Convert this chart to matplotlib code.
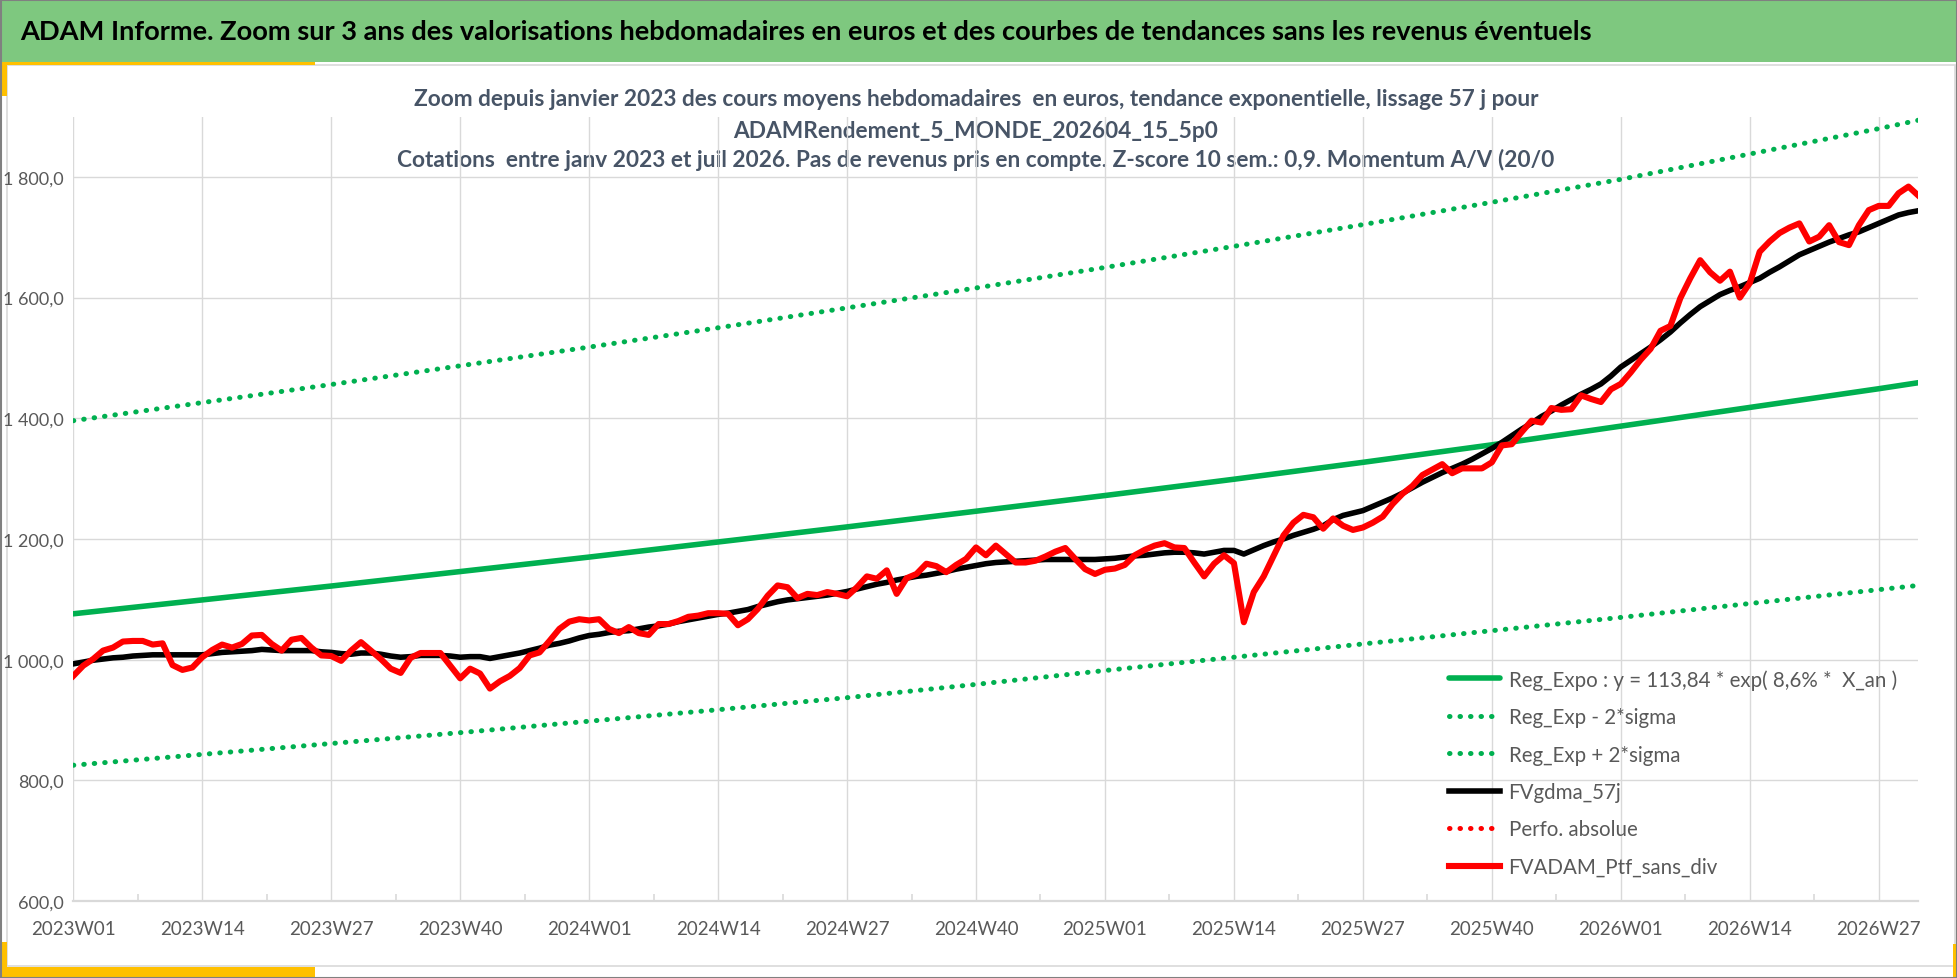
import numpy as np
import matplotlib
matplotlib.use("Agg")
import matplotlib.pyplot as plt
from matplotlib.patches import Rectangle
from matplotlib.ticker import FixedLocator, FuncFormatter

plt.rcParams["font.family"] = ["Lato", "DejaVu Sans"]

# ---- data (x = weeks since 2023W01) ----
tick_weeks = [0, 13, 26, 39, 52, 65, 78, 91, 104, 117, 130, 143, 156, 169, 182]
tick_labels = ["2023W01", "2023W14", "2023W27", "2023W40", "2024W01", "2024W14",
               "2024W27", "2024W40", "2025W01", "2025W14", "2025W27", "2025W40",
               "2026W01", "2026W14", "2026W27"]

trend_weeks = [0, 13, 26, 39, 52, 65, 78, 91, 104, 117, 130, 143, 156, 169, 182, 186]
reg_expo = [1076, 1099, 1122, 1146, 1170, 1195, 1220, 1246, 1272, 1299, 1327, 1356,
            1387, 1418, 1449, 1459]
reg_minus = [825, 843, 861, 879, 898, 917, 937, 959, 982, 1004, 1026, 1048,
             1070, 1093, 1116, 1123]
reg_plus = [1396, 1426, 1456, 1487, 1518, 1550, 1583, 1616, 1650, 1685, 1721, 1758,
            1796, 1838, 1880, 1894]

fv_gdma = [993, 996, 999, 1001, 1003, 1004, 1006, 1007, 1008, 1008,
           1008, 1008, 1008, 1008, 1010, 1012, 1013, 1014, 1015, 1017,
           1016, 1015, 1015, 1015, 1015, 1013, 1012, 1010, 1009, 1011,
           1011, 1009, 1006, 1004, 1005, 1007, 1007, 1007, 1006, 1004,
           1005, 1005, 1002, 1005, 1008, 1011, 1015, 1019, 1024, 1027,
           1031, 1036, 1040, 1042, 1045, 1047, 1048, 1051, 1054, 1056,
           1059, 1063, 1066, 1069, 1072, 1075, 1077, 1080, 1083, 1088,
           1092, 1096, 1099, 1101, 1103, 1105, 1107, 1110, 1113, 1117,
           1121, 1125, 1128, 1132, 1135, 1138, 1140, 1143, 1146, 1150,
           1153, 1156, 1159, 1161, 1162, 1163, 1164, 1165, 1166, 1166,
           1166, 1166, 1166, 1166, 1167, 1168, 1170, 1172, 1173, 1175,
           1177, 1178, 1178, 1177, 1175, 1178, 1181, 1181, 1175, 1182,
           1189, 1195, 1200, 1206, 1211, 1216, 1222, 1232, 1239, 1243,
           1247, 1254, 1261, 1268, 1276, 1285, 1294, 1302, 1310, 1317,
           1324, 1332, 1341, 1350, 1360, 1371, 1382, 1392, 1403, 1412,
           1422, 1431, 1440, 1448, 1457, 1470, 1485, 1496, 1507, 1518,
           1530, 1543, 1558, 1572, 1585, 1595, 1605, 1612, 1618, 1625,
           1632, 1642, 1651, 1661, 1671, 1678, 1685, 1692, 1698, 1704,
           1709, 1716, 1723, 1730, 1737, 1741, 1744]

fvadam = [973, 990, 1001, 1015, 1020, 1030, 1031, 1031, 1025, 1027,
          991, 983, 987, 1004, 1016, 1025, 1020, 1026, 1040, 1041,
          1026, 1015, 1033, 1036, 1020, 1007, 1006, 998, 1015, 1029,
          1015, 1001, 985, 978, 1003, 1011, 1011, 1011, 990, 969,
          985, 977, 952, 964, 973, 986, 1007, 1012, 1031, 1051,
          1063, 1067, 1065, 1067, 1051, 1044, 1054, 1044, 1041, 1059,
          1059, 1064, 1071, 1073, 1077, 1077, 1076, 1057, 1067, 1084,
          1106, 1123, 1120, 1102, 1109, 1107, 1112, 1109, 1105, 1120,
          1138, 1134, 1148, 1109, 1135, 1142, 1159, 1155, 1145, 1157,
          1167, 1186, 1173, 1189, 1175, 1161, 1161, 1164, 1171, 1179,
          1185, 1167, 1150, 1142, 1149, 1151, 1157, 1173, 1182, 1189,
          1193, 1186, 1185, 1161, 1138, 1159, 1173, 1160, 1062, 1112,
          1138, 1172, 1206, 1227, 1240, 1236, 1217, 1234, 1222, 1215,
          1219, 1227, 1237, 1258, 1275, 1288, 1306, 1315, 1324, 1309,
          1317, 1317, 1317, 1327, 1355, 1357, 1377, 1396, 1393, 1417,
          1414, 1415, 1438, 1432, 1427, 1448, 1457, 1476, 1497, 1515,
          1545, 1553, 1599, 1632, 1662, 1642, 1628, 1643, 1600, 1624,
          1676, 1693, 1707, 1716, 1723, 1693, 1701, 1720, 1692, 1687,
          1720, 1745, 1752, 1752, 1773, 1784, 1769]

W, H = 1958, 979
GREEN = "#00b050"
TXT = "#595959"
DOTS = (0, (0.1, 2.0))

fig = plt.figure(figsize=(W / 100, H / 100), dpi=100)

# background decorations in pixel coordinates
bg = fig.add_axes([0, 0, 1, 1])
bg.set_xlim(0, W)
bg.set_ylim(H, 0)
bg.axis("off")
bg.add_patch(Rectangle((0, 0), W, 63, facecolor="#7ec87f", edgecolor="none"))
bg.add_patch(Rectangle((7, 66), W - 10, 901, facecolor="white", edgecolor="#d9d9d9", lw=1.2))
bg.add_patch(Rectangle((0, 63), 315, 3, facecolor="#ffc000", edgecolor="none"))
bg.add_patch(Rectangle((0, 63), 7, 34, facecolor="#ffc000", edgecolor="none"))
bg.add_patch(Rectangle((0, 968), 315, 10, facecolor="#ffc000", edgecolor="none"))
bg.add_patch(Rectangle((0, 943), 7, 35, facecolor="#ffc000", edgecolor="none"))
bg.add_patch(Rectangle((1953, 945), 5, 34, facecolor="#ffc000", edgecolor="none"))
bg.add_patch(Rectangle((0.5, 0.5), W - 1, H - 1, facecolor="none", edgecolor="#808080", lw=1.5))
bg.text(20, 32, "ADAM Informe. Zoom sur 3 ans des valorisations hebdomadaires en euros "
        "et des courbes de tendances sans les revenus éventuels",
        fontsize=19.6, fontweight="bold", color="black", va="center", ha="left")

title_lines = [
    "Zoom depuis janvier 2023 des cours moyens hebdomadaires  en euros, tendance "
    "exponentielle, lissage 57 j pour",
    "ADAMRendement_5_MONDE_202604_15_5p0",
    "Cotations  entre janv 2023 et juil 2026. Pas de revenus pris en compte. "
    "Z-score 10 sem.: 0,9. Momentum A/V (20/0",
]
for yy, line in zip([100, 131, 160], title_lines):
    bg.text(976, yy, line, fontsize=16.3, fontweight="bold", color="#475466",
            ha="center", va="center")

# main chart
ax = fig.add_axes([73.3 / W, 1 - 902 / H, (1918.4 - 73.3) / W, (902 - 117.6) / H])
ax.set_facecolor("none")

ax.plot(trend_weeks, reg_expo, color=GREEN, lw=4.0, solid_capstyle="round",
        label="Reg_Expo : y = 113,84 * exp( 8,6% *  X_an )")
ax.plot(trend_weeks, reg_minus, color=GREEN, lw=3.6, linestyle=DOTS,
        dash_capstyle="round", label="Reg_Exp - 2*sigma")
ax.plot(trend_weeks, reg_plus, color=GREEN, lw=3.6, linestyle=DOTS,
        dash_capstyle="round", label="Reg_Exp + 2*sigma")
ax.plot(np.arange(len(fv_gdma)), fv_gdma, color="black", lw=4.0, label="FVgdma_57j")
ax.plot([], [], color="red", lw=3.6, linestyle=DOTS, dash_capstyle="round",
        label="Perfo. absolue")
ax.plot(np.arange(len(fvadam)), fvadam, color="red", lw=4.4, solid_joinstyle="round",
        label="FVADAM_Ptf_sans_div")

ax.set_xlim(0, len(fvadam) - 1)
ax.set_ylim(600, 1900)
ax.xaxis.set_major_locator(FixedLocator(tick_weeks))
ax.set_xticklabels(tick_labels)
ax.xaxis.set_minor_locator(FixedLocator([w + 6.5 for w in tick_weeks]))
ax.yaxis.set_major_locator(FixedLocator(np.arange(600, 1801, 200)))
ax.yaxis.set_major_formatter(FuncFormatter(
    lambda v, p: f"{v:,.1f}".replace(",", "\u00a0").replace(".", ",")))

ax.grid(True, which="major", color="#d9d9d9", lw=1.0)
ax.set_axisbelow(True)
for side in ["left", "right", "top"]:
    ax.spines[side].set_visible(False)
ax.spines["bottom"].set_color("#d9d9d9")
ax.spines["bottom"].set_linewidth(1.6)
ax.tick_params(axis="x", which="major", length=0, pad=14, labelsize=13.5, labelcolor=TXT)
ax.tick_params(axis="x", which="minor", direction="in", length=5, color="#d9d9d9", width=1.2)
ax.tick_params(axis="y", length=0, pad=7, labelsize=13, labelcolor=TXT)

ax.legend(loc="upper left", bbox_to_anchor=(1449 / W, 1 - 670 / H),
          bbox_transform=fig.transFigure, frameon=False, fontsize=14.8,
          handlelength=2.5, handletextpad=0.4, labelspacing=0.85,
          borderpad=0, borderaxespad=0, labelcolor=TXT)

fig.savefig("out.png", dpi=100)
